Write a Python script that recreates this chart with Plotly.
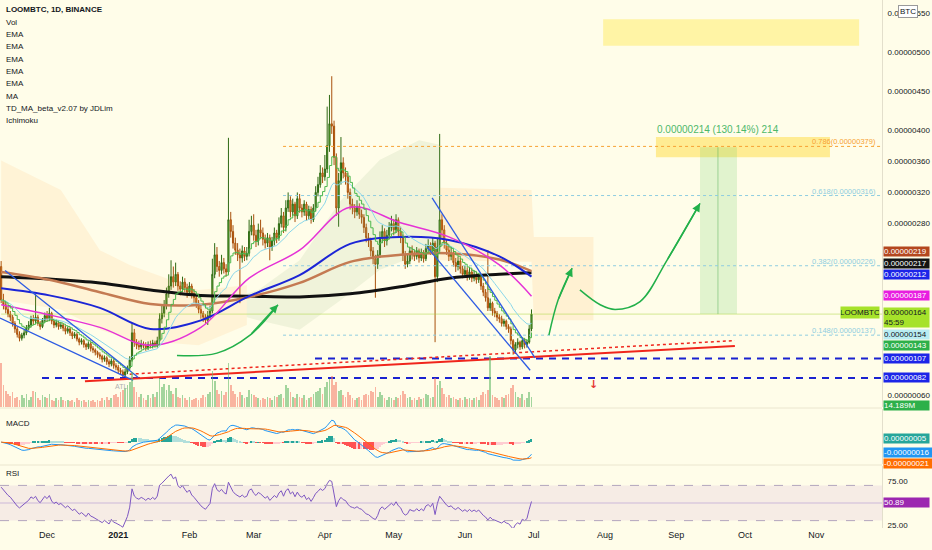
import pandas as pd
import numpy as np
import plotly.graph_objects as go

# ---------------- data (prices in satoshi = 1e-8 BTC) ----------------
START = "2020-11-11"
first_open = 225
close = [182, 176, 170, 164, 160, 152, 145, 138, 133, 137,
         140, 146, 150, 158, 155, 160, 152, 148, 156, 162,
         158, 165, 155, 150, 153, 148, 150, 146, 142, 145,
         140, 136, 138, 132, 128, 130, 125, 122, 126, 120,
         118, 115, 112, 110, 106, 108, 103, 100, 104, 98,
         96, 92, 90, 86, 90, 95, 105, 140, 128, 124,
         122, 126, 124, 121, 125, 123, 127, 124, 130, 158,
         165, 175, 190, 200, 212, 205, 215, 200, 196, 205,
         198, 192, 200, 190, 185, 178, 170, 165, 160, 156,
         162, 168, 215, 240, 225, 220, 230, 222, 218, 285,
         270, 255, 246, 240, 236, 245, 238, 242, 270, 278,
         265, 258, 272, 268, 260, 255, 262, 250, 258, 268,
         262, 280, 290, 275, 300, 310, 295, 305, 290, 312,
         300, 295, 305, 290, 298, 285, 300, 320, 330, 345,
         340, 350, 380, 408, 405, 365, 300, 335, 358, 345,
         340, 320, 305, 300, 295, 302, 292, 288, 275, 262,
         258, 245, 235, 228, 240, 262, 270, 258, 265, 275,
         280, 272, 285, 270, 262, 240, 228, 232, 245, 240,
         238, 245, 236, 242, 235, 248, 252, 245, 255, 212,
         250, 285, 272, 255, 246, 238, 242, 230, 225, 232,
         222, 215, 220, 212, 218, 210, 214, 208, 212, 200,
         192, 185, 172, 178, 168, 165, 160, 158, 152, 155,
         148, 145, 130, 118, 125, 128, 122, 130, 125, 128,
         145, 164]
high = [232, 190, 180, 174, 168, 163, 155, 148, 142, 140,
        144, 150, 155, 162, 163, 190, 163, 155, 159, 166,
        168, 172, 167, 158, 157, 156, 154, 152, 149, 148,
        147, 142, 141, 140, 134, 133, 132, 127, 129, 128,
        123, 120, 117, 115, 112, 111, 110, 106, 107, 106,
        101, 99, 95, 93, 94, 98, 110, 152, 145, 132,
        130, 131, 129, 128, 129, 130, 131, 130, 135, 165,
        175, 182, 198, 215, 233, 225, 230, 218, 206, 212,
        210, 203, 205, 203, 196, 190, 182, 175, 168, 164,
        168, 175, 235, 255, 250, 232, 240, 236, 228, 390,
        295, 278, 262, 255, 248, 252, 250, 250, 285, 290,
        292, 272, 280, 285, 275, 266, 268, 266, 263, 275,
        272, 288, 300, 295, 310, 320, 315, 312, 308, 320,
        318, 305, 310, 308, 303, 302, 305, 328, 340, 355,
        352, 368, 430, 445, 469, 412, 370, 345, 391, 365,
        352, 345, 325, 312, 305, 310, 306, 298, 292, 280,
        268, 262, 250, 240, 246, 270, 278, 274, 272, 282,
        290, 286, 292, 288, 276, 266, 245, 240, 250, 252,
        246, 250, 248, 248, 246, 254, 260, 256, 262, 258,
        262, 395, 292, 278, 260, 252, 250, 246, 236, 238,
        236, 226, 226, 224, 224, 222, 220, 218, 216, 215,
        204, 196, 246, 184, 180, 172, 168, 164, 162, 158,
        157, 151, 148, 132, 128, 133, 130, 134, 133, 131,
        150, 170]
low = [178, 170, 165, 160, 155, 148, 140, 134, 129, 130,
       133, 137, 143, 147, 150, 152, 149, 144, 146, 153,
       154, 155, 151, 146, 147, 144, 145, 142, 138, 139,
       136, 132, 133, 129, 124, 125, 121, 118, 119, 116,
       114, 111, 108, 106, 102, 103, 99, 96, 97, 94,
       92, 88, 86, 82, 83, 87, 92, 103, 122, 119,
       118, 119, 120, 117, 118, 120, 120, 121, 121, 128,
       152, 160, 170, 185, 195, 198, 200, 194, 188, 192,
       192, 185, 188, 184, 178, 172, 165, 158, 154, 152,
       150, 158, 165, 210, 218, 212, 215, 216, 212, 215,
       262, 248, 240, 232, 178, 230, 232, 233, 238, 265,
       258, 250, 252, 262, 252, 248, 250, 233, 245, 252,
       255, 258, 275, 268, 270, 295, 288, 290, 282, 286,
       294, 288, 290, 284, 285, 280, 282, 296, 315, 326,
       332, 335, 345, 372, 395, 355, 290, 276, 330, 338,
       330, 312, 298, 292, 287, 290, 286, 280, 268, 256,
       250, 238, 228, 185, 222, 236, 255, 250, 252, 260,
       270, 265, 268, 262, 255, 232, 222, 224, 228, 234,
       232, 234, 230, 232, 230, 232, 244, 240, 240, 128,
       205, 245, 262, 248, 240, 232, 233, 225, 218, 220,
       216, 210, 211, 207, 208, 205, 206, 203, 204, 195,
       187, 180, 168, 168, 162, 160, 155, 153, 148, 148,
       144, 140, 125, 112, 113, 120, 118, 119, 120, 121,
       126, 142]
volume = [60, 30, 22, 18, 15, 20, 12, 14, 10, 16,
          12, 18, 10, 14, 22, 20, 12, 10, 16, 14,
          12, 18, 10, 8, 12, 10, 14, 9, 8, 10,
          8, 10, 7, 12, 9, 8, 10, 7, 9, 8,
          9, 7, 10, 8, 12, 9, 14, 10, 12, 16,
          18, 14, 20, 24, 26, 30, 35, 48, 28, 20,
          14, 18, 12, 10, 16, 12, 18, 14, 20, 40,
          28, 32, 24, 30, 22, 18, 26, 14, 12, 16,
          12, 10, 14, 9, 11, 13, 10, 12, 16, 14,
          18, 20, 50, 36, 24, 18, 22, 16, 20, 60,
          30, 22, 18, 14, 20, 16, 12, 14, 24, 18,
          16, 14, 12, 10, 13, 11, 14, 12, 10, 15,
          14, 16, 18, 12, 30, 26, 20, 14, 12, 18,
          14, 12, 16, 10, 12, 14, 18, 20, 22, 26,
          18, 28, 34, 38, 42, 30, 34, 22, 24, 16,
          14, 20, 16, 12, 10, 12, 14, 10, 16, 18,
          16, 22, 20, 28, 14, 20, 16, 12, 10, 14,
          12, 10, 14, 12, 16, 22, 18, 12, 14, 10,
          12, 10, 14, 11, 13, 18, 16, 12, 14, 40,
          30, 36, 26, 18, 14, 16, 12, 14, 11, 10,
          12, 10, 14, 11, 13, 10, 12, 14, 10, 16,
          20, 18, 24, 70, 16, 14, 12, 10, 14, 12,
          16, 18, 26, 30, 20, 14, 12, 18, 10, 12,
          20, 14.189]

rsi_start = 68
rsi_start_avg_loss = 3.0

# moving averages
ma_dates = ["2020-11-11", "2020-12-02", "2020-12-24", "2021-01-15", "2021-02-06", "2021-02-27",
            "2021-03-21", "2021-04-12", "2021-05-04", "2021-05-25", "2021-06-16", "2021-06-30"]
ma_black = [212, 209, 204, 195, 188, 187, 186, 190, 199, 210, 215, 217]
ema_brown = [218, 208, 192, 177, 176, 186, 204, 231, 240, 242, 234, 219]
ema_blue = [197, 188, 172, 145, 156, 187, 214, 254, 263, 259, 238, 212]
ema_magenta = [176, 163, 147, 124, 147, 210, 246, 301, 281, 263, 227, 187]

# ichimoku cloud (read): bearish / bullish segments
cloud_r1_dates = ["2020-11-11", "2020-12-07", "2020-12-24", "2021-01-06", "2021-02-05", "2021-02-26"]
cloud_r1_up = [361, 323, 246, 227, 195, 201]
cloud_r1_dn = [182, 170, 144, 131, 124, 150]
cloud_g_dates = ["2021-02-26", "2021-03-03", "2021-03-21", "2021-04-08", "2021-04-25", "2021-05-12",
                 "2021-05-21"]
cloud_g_up = [190, 195, 233, 310, 362, 387, 381]
cloud_g_dn = [160, 156, 144, 182, 221, 240, 250]
cloud_r2_dates = ["2021-05-21", "2021-06-30", "2021-07-01", "2021-07-27"]
cloud_r2_up = [326, 323, 263, 263]
cloud_r2_dn = [233, 231, 156, 156]

# drawings
right_edge = "2021-11-29 16:00"
fib_start = "2021-03-13 19:00"
fib_levels = [379, 316, 226, 137]
fib_names = ["0.786(0.00000379)", "0.618(0.00000316)", "0.382(0.00000226)", "0.148(0.00000137)"]
fib_colors = ["#f7a233", "#8fcde0", "#8fcde0", "#8fcde0"]
hline_vals = [107, 82]
hline_starts = ["2021-03-27 17:00", "2020-11-28 19:00"]
support_dates = ["2020-12-17 12:00", "2021-09-26 14:00"]
support_vals = [78, 123]
support2_dates = ["2021-01-06", "2021-09-26 14:00"]
support2_vals = [87, 130]
wedge_l_up = (["2020-11-12 17:00", "2021-01-09 14:00"], [220, 83])
wedge_l_dn = (["2020-11-10 12:00", "2021-01-07 12:00"], [159, 79])
wedge_r_up = (["2021-05-17 17:00", "2021-07-01 12:00"], [313, 108])
wedge_r_dn = (["2021-05-15 12:00", "2021-06-29 10:00"], [250, 92])
arrow1 = (["2021-01-26 14:00", "2021-02-13", "2021-02-27 10:00", "2021-03-11 14:00"], [111, 114, 137, 176])
arrow2 = (["2021-07-07 14:00", "2021-07-11 14:00", "2021-07-17 17:00"], [137, 182, 223])
arrow3 = (["2021-07-21 02:00", "2021-07-29 22:00", "2021-08-05 10:00", "2021-08-16 07:00",
           "2021-08-28", "2021-09-11 10:00"], [195, 176, 170, 180, 233, 306])
long_box = (["2021-09-11 10:00", "2021-09-27 12:00"], [164, 378])
long_mid = "2021-09-19 05:00"
long_text = "0.00000214 (130.14%) 214"
yellow1 = (["2021-08-23 05:00", "2021-11-07"], [365, 391])
yellow2 = (["2021-07-31 05:00", "2021-11-19 17:00"], [508, 542])

month_ticks = ["2020-12-01", "2021-01-01", "2021-02-01", "2021-03-01", "2021-04-01", "2021-05-01",
               "2021-06-01", "2021-07-01", "2021-08-01", "2021-09-01", "2021-10-01", "2021-11-01"]
month_labels = ["Dec", "<b>2021</b>", "Feb", "Mar", "Apr", "May", "Jun", "Jul", "Aug", "Sep", "Oct", "Nov"]
price_ticks = [550, 500, 450, 400, 360, 320, 280, 60]

# axis price tags: (text, pixel centre, background, text colour)
tags = [("0.00000219", 251.5, "#b4471f", "#ffffff"),
        ("0.00000217", 263, "#131313", "#ffffff"),
        ("0.00000212", 274.5, "#1c25e8", "#ffffff"),
        ("0.00000187", 295.5, "#e81ee0", "#ffffff"),
        ("0.00000154", 334.5, "#b9ecf2", "#131722"),
        ("0.00000143", 345.5, "#2db04a", "#ffffff"),
        ("0.00000107", 358, "#1c25e8", "#ffffff"),
        ("0.00000082", 377.5, "#1c25e8", "#ffffff"),
        ("14.189M", 405, "#2db04a", "#ffffff"),
        ("0.00000005", 438, "#26a69a", "#ffffff"),
        ("-0.00000016", 452.5, "#2196f3", "#ffffff"),
        ("-0.00000021", 463, "#ff6d00", "#ffffff"),
        ("50.89", 502, "#9c27b0", "#ffffff")]

# ---------------- derived ----------------
dates = pd.date_range(START, periods=len(close), freq="D")
open_ = [first_open] + close[:-1]
s = pd.Series(close, dtype=float)
ema_fast = s.ewm(span=8, adjust=False).mean()
ema_mid = s.ewm(span=21, adjust=False).mean()
macd = s.ewm(span=12, adjust=False).mean() - s.ewm(span=26, adjust=False).mean()
signal = macd.ewm(span=9, adjust=False).mean()
hist = macd - signal

# Wilder RSI(14), seeded with the state seen at the left edge
chg = s.diff().fillna(0).values
avg_l = rsi_start_avg_loss
avg_g = avg_l * rsi_start / (100 - rsi_start)
rsi = []
for i, c in enumerate(chg):
    if i > 0:
        avg_g = (avg_g * 13 + max(c, 0)) / 14
        avg_l = (avg_l * 13 + max(-c, 0)) / 14
    rsi.append(100 - 100 / (1 + avg_g / avg_l))

hist_colors = []
prev = 0
for h in hist:
    if h >= 0:
        hist_colors.append("#26a69a" if h >= prev else "#b2dfdb")
    else:
        hist_colors.append("#ff5252" if h <= prev else "#ffcdd2")
    prev = h
vol_colors = ["rgba(102,187,106,0.6)" if c >= o else "rgba(244,120,100,0.55)" for o, c in zip(open_, close)]

# ---------------- layout helpers ----------------
H_PLOT = 528.0
def py(px):
    return (H_PLOT - px) / H_PLOT

FONT = "Liberation Sans Narrow, Liberation Sans, sans-serif"
BG = "#fffde9"

fig = go.Figure()

def poly(xd, up, dn, color):
    fig.add_trace(go.Scatter(x=list(xd) + list(xd)[::-1], y=list(up) + list(dn)[::-1],
                             fill="toself", fillcolor=color, line=dict(width=0),
                             mode="lines", hoverinfo="skip", showlegend=False))

poly(cloud_r1_dates, cloud_r1_up, cloud_r1_dn, "rgba(255,160,60,0.11)")
poly(cloud_g_dates, cloud_g_up, cloud_g_dn, "rgba(130,175,115,0.12)")
poly(cloud_r2_dates, cloud_r2_up, cloud_r2_dn, "rgba(255,160,60,0.13)")

# yellow zones and long box
for (xd, yv), col in [(yellow2, "rgba(255,236,110,0.55)"), (yellow1, "rgba(255,225,90,0.6)")]:
    poly([xd[0], xd[1]], [yv[1], yv[1]], [yv[0], yv[0]], col)
poly(long_box[0], [long_box[1][1]] * 2, [long_box[1][0]] * 2, "rgba(120,210,110,0.22)")
fig.add_trace(go.Scatter(x=[long_mid, long_mid], y=long_box[1], mode="lines",
                         line=dict(color="rgba(90,180,90,0.5)", width=1), showlegend=False))

# fib levels
for lv, col in zip(fib_levels, fib_colors):
    fig.add_trace(go.Scatter(x=[fib_start, right_edge], y=[lv, lv], mode="lines",
                             line=dict(color=col, width=1, dash="dot"), showlegend=False))
# last price line
fig.add_trace(go.Scatter(x=[dates[0], right_edge], y=[close[-1], close[-1]], mode="lines",
                         line=dict(color="rgba(170,215,60,0.5)", width=1), showlegend=False))

# volume
fig.add_trace(go.Bar(x=dates, y=volume, marker=dict(color=vol_colors, line=dict(width=0)),
                     width=86400000 * 0.75, yaxis="y4", showlegend=False))

# moving averages
for vals, col, w in [(ma_black, "#111111", 3), (ema_brown, "#c47a52", 2.5),
                     (ema_blue, "#1c25d6", 2), (ema_magenta, "#e532d6", 1.5)]:
    fig.add_trace(go.Scatter(x=ma_dates, y=vals, mode="lines", line=dict(color=col, width=w, shape="spline"),
                             showlegend=False))
fig.add_trace(go.Scatter(x=dates, y=ema_mid, mode="lines", line=dict(color="#8ad7ea", width=1), showlegend=False))
fig.add_trace(go.Scatter(x=dates, y=ema_fast, mode="lines", line=dict(color="#4cb84c", width=1, shape="hv"),
                         showlegend=False))

# candles
fig.add_trace(go.Candlestick(x=dates, open=open_, high=high, low=low, close=close,
                             increasing=dict(line=dict(color="#2f6a14", width=1), fillcolor="#6cc23a"),
                             decreasing=dict(line=dict(color="#a8500c", width=1), fillcolor="#ffa233"),
                             whiskerwidth=0, showlegend=False))

# horizontal dashed levels
for v, st in zip(hline_vals, hline_starts):
    fig.add_trace(go.Scatter(x=[st, right_edge], y=[v, v], mode="lines",
                             line=dict(color="#1a22d0", width=2, dash="7px,6px"), showlegend=False))
# supports
fig.add_trace(go.Scatter(x=support_dates, y=support_vals, mode="lines",
                         line=dict(color="#f0261c", width=2), showlegend=False))
fig.add_trace(go.Scatter(x=support2_dates, y=support2_vals, mode="lines",
                         line=dict(color="#f0261c", width=1.5, dash="dot"), showlegend=False))
# wedges
for xd, yv in [wedge_l_up, wedge_l_dn, wedge_r_up, wedge_r_dn]:
    fig.add_trace(go.Scatter(x=xd, y=yv, mode="lines", line=dict(color="#2d5be3", width=1.3), showlegend=False))
# green arrows
annotations = []
for xd, yv in [arrow1, arrow2, arrow3]:
    fig.add_trace(go.Scatter(x=xd, y=yv, mode="lines", line=dict(color="#22b04a", width=1.5, shape="spline"),
                             showlegend=False))
    annotations.append(dict(x=xd[-1], y=yv[-1], ax=xd[-2], ay=yv[-2], xref="x", yref="y", axref="x", ayref="y",
                            showarrow=True, arrowhead=2, arrowsize=1.1, arrowwidth=1.5, arrowcolor="#22b04a",
                            text="", standoff=0))

# MACD pane
fig.add_trace(go.Bar(x=dates, y=hist, marker=dict(color=hist_colors, line=dict(width=0)),
                     width=86400000 * 0.75, yaxis="y2", showlegend=False))
fig.add_trace(go.Scatter(x=dates, y=macd, mode="lines", line=dict(color="#2196f3", width=1), yaxis="y2",
                         showlegend=False))
fig.add_trace(go.Scatter(x=dates, y=signal, mode="lines", line=dict(color="#ff6d00", width=1), yaxis="y2",
                         showlegend=False))

# RSI pane
fig.add_trace(go.Scatter(x=dates, y=rsi, mode="lines", line=dict(color="#7e57c2", width=1), yaxis="y3",
                         showlegend=False))

shapes = [
    dict(type="rect", xref="paper", yref="y3", x0=0, x1=1, y0=30, y1=70, fillcolor="rgba(170,90,200,0.10)",
         line=dict(width=0), layer="below"),
    dict(type="line", xref="paper", yref="y3", x0=0, x1=1, y0=70, y1=70, line=dict(color="#b3a6bd", width=1, dash="dash")),
    dict(type="line", xref="paper", yref="y3", x0=0, x1=1, y0=30, y1=30, line=dict(color="#b3a6bd", width=1, dash="dash")),
    dict(type="line", xref="paper", yref="y3", x0=0, x1=1, y0=50, y1=50, line=dict(color="rgba(126,87,194,0.35)", width=1)),
    dict(type="line", xref="paper", yref="paper", x0=0, x1=1, y0=py(408), y1=py(408), line=dict(color="#ebe6cf", width=1)),
    dict(type="line", xref="paper", yref="paper", x0=0, x1=1, y0=py(465), y1=py(465), line=dict(color="#ebe6cf", width=1)),
]

# legend texts (top-left)
legend_lines = ["<b>LOOMBTC, 1D, BINANCE</b>", "Vol", "EMA", "EMA", "EMA", "EMA", "EMA", "MA",
                "TD_MA_beta_v2.07 by JDLim", "Ichimoku"]
LEG = dict(family=FONT, size=8, color="#131722")
for i, t in enumerate(legend_lines):
    annotations.append(dict(x=0.005, y=py(10 + i * 12.3), xref="paper", yref="paper", text=t, showarrow=False,
                            xanchor="left", yanchor="middle", font=LEG))
annotations.append(dict(x=0.005, y=py(423), xref="paper", yref="paper", text="MACD", showarrow=False,
                        xanchor="left", yanchor="middle", font=LEG))
annotations.append(dict(x=0.005, y=py(473), xref="paper", yref="paper", text="RSI", showarrow=False,
                        xanchor="left", yanchor="middle", font=LEG))

# fib labels
for lv, nm, col in zip(fib_levels, fib_names, fib_colors):
    annotations.append(dict(x=0.996, y=lv, xref="paper", yref="y", text=nm, showarrow=False, xanchor="right",
                            yanchor="bottom", yshift=-2, font=dict(family=FONT, size=7.5, color=col)))
annotations.append(dict(x=long_mid, y=long_box[1][1], xref="x", yref="y", text=long_text, showarrow=False,
                        yanchor="bottom", yshift=10, font=dict(family=FONT, size=10, color="#4db86a")))
annotations.append(dict(x="2021-01-02 05:00", y=78, xref="x", yref="y", text="ATL", showarrow=False,
                        yanchor="top", font=dict(family=FONT, size=7, color="#b0b0b0")))
annotations.append(dict(x="2021-07-27 05:00", y=74, xref="x", yref="y", text="<b>↓</b>", showarrow=False,
                        font=dict(family="DejaVu Sans", size=11, color="#e53935")))

# right axis price tags
TAG = dict(family=FONT, size=8)
for txt, pxc, bg, fg in tags:
    annotations.append(dict(x=1, y=py(pxc), xref="paper", yref="paper", text=txt, showarrow=False,
                            xanchor="left", yanchor="middle", bgcolor=bg, borderpad=0, xshift=1,
                            width=48 if txt.startswith("-") else 45, height=9, align="left",
                            font=dict(TAG, color=fg)))
annotations.append(dict(x=1, y=py(317.5), xref="paper", yref="paper", text="0.00000164<br>45:59",
                        showarrow=False, xanchor="left", yanchor="middle", bgcolor="#a6e22a", borderpad=0,
                        xshift=1, width=45, height=19, align="left", font=dict(TAG, color="#131722")))
annotations.append(dict(x=1, y=py(312.5), xref="paper", yref="paper", text="LOOMBTC", showarrow=False,
                        xanchor="right", yanchor="middle", bgcolor="#a6e22a", borderpad=0, xshift=-2,
                        width=38, height=11, font=dict(TAG, color="#131722")))
annotations.append(dict(x=1, y=py(11), xref="paper", yref="paper", text="BTC", showarrow=False,
                        xanchor="left", yanchor="middle", bgcolor="#ffffff", bordercolor="#9a9a9a", borderwidth=1,
                        borderpad=1, xshift=16, font=dict(family=FONT, size=8, color="#131722")))

axis_font = dict(family=FONT, size=8, color="#131722")
fig.update_layout(
    width=932, height=550, margin=dict(l=0, r=50, t=0, b=22),
    paper_bgcolor=BG, plot_bgcolor=BG,
    showlegend=False, bargap=0, barmode="overlay",
    xaxis=dict(type="date", range=["2020-11-10 12:00", right_edge], anchor="y3", tickvals=month_ticks,
               ticktext=month_labels, tickfont=dict(axis_font, size=9), showgrid=False, zeroline=False, ticks="",
               rangeslider=dict(visible=False), showline=False),
    yaxis=dict(domain=[py(407), 1], range=[44.9, 566.7], side="right", tickvals=price_ticks,
               ticktext=["0.00000%03d" % v for v in price_ticks], tickfont=axis_font, showgrid=False,
               zeroline=False, showline=True, linecolor="#e3dfcc", ticks="", ticklen=0, ticklabelstandoff=3),
    yaxis2=dict(domain=[py(464), py(409)], range=[-30.7, 46.4], side="right", showticklabels=False,
                showgrid=False, zeroline=False, showline=True, linecolor="#e3dfcc", anchor="x"),
    yaxis3=dict(domain=[0, py(466)], range=[21.6, 92.05], side="right", tickvals=[75, 25],
                ticktext=["75.00", "25.00"], tickfont=axis_font, showgrid=False, zeroline=False, showline=True,
                linecolor="#e3dfcc", anchor="x", ticks="", ticklen=0, ticklabelstandoff=3),
    yaxis4=dict(overlaying="y", range=[0, 560], visible=False),
    shapes=shapes, annotations=annotations,
)
fig.write_html("out.html", config={"displayModeBar": False},
               post_script="document.body.style.margin='0px';")
